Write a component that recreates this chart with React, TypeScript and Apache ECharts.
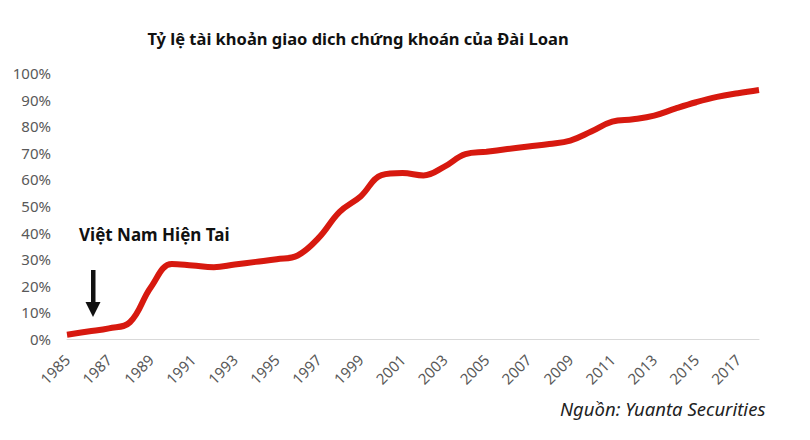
import React, { useEffect, useRef } from "react";
import * as echarts from "echarts";

const years: string[] = [];
for (let y = 1985; y <= 2018; y++) years.push(String(y));

const ratioValues: number[] = [
  1.6, 2.8, 4.0, 6.3, 19.5, 28.2, 27.6, 27.0, 28.0, 29.0, 30.0, 31.4,
  38.0, 47.8, 53.6, 61.6, 62.4, 61.5, 64.8, 69.5, 70.4, 71.4, 72.4, 73.3,
  74.6, 78.0, 81.7, 82.6, 84.0, 86.6, 89.0, 91.0, 92.4, 93.6,
];

const titleText = "Tỷ lệ tài khoản giao dich chứng khoán của Đài Loan";
const noteText = "Việt Nam Hiện Tai";
const sourceText = "Nguồn: Yuanta Securities";

export default function App() {
  const ref = useRef<HTMLDivElement>(null);
  useEffect(() => {
    if (!ref.current) return;
    const chart = echarts.init(ref.current, undefined, { renderer: "svg" });
    chart.setOption({
      animation: false,
      backgroundColor: "#ffffff",
      title: {
        text: titleText,
        left: 353,
        textAlign: "center",
        top: 25,
        textStyle: {
          fontFamily: "Noto Sans",
          fontWeight: "bold",
          fontSize: 16.5,
          color: "#111111",
        },
      },
      grid: { left: 67, right: 51, top: 73, bottom: 101, containLabel: false },
      xAxis: {
        type: "category",
        data: years,
        boundaryGap: false,
        axisLine: { lineStyle: { color: "#d9d9d9", width: 1 } },
        axisTick: { show: false },
        axisLabel: {
          interval: 1,
          rotate: 45,
          margin: 18,
          fontFamily: "Noto Sans",
          fontSize: 15,
          color: "#595959",
        },
        splitLine: { show: false },
      },
      yAxis: {
        type: "value",
        min: 0,
        max: 100,
        interval: 10,
        axisLine: { show: false },
        axisTick: { show: false },
        splitLine: { show: false },
        axisLabel: {
          formatter: "{value}%",
          margin: 16,
          fontFamily: "Noto Sans",
          fontSize: 15,
          color: "#595959",
        },
      },
      series: [
        {
          type: "line",
          data: ratioValues,
          smooth: 0.4,
          showSymbol: false,
          lineStyle: { color: "#d7190f", width: 6 },
          itemStyle: { color: "#d7190f" },
        },
      ],
      graphic: [
        {
          type: "text",
          left: 79,
          top: 226,
          style: {
            text: noteText,
            fontFamily: "Noto Sans",
            fontWeight: "bold",
            fontSize: 17,
            fill: "#111111",
          },
        },
        {
          type: "rect",
          shape: { x: 91, y: 270, width: 4.5, height: 33 },
          style: { fill: "#111111" },
        },
        {
          type: "polygon",
          shape: { points: [[85.5, 302], [100.5, 302], [93, 317]] },
          style: { fill: "#111111" },
        },
        {
          type: "text",
          left: 560,
          top: 399,
          style: {
            text: sourceText,
            fontFamily: "Noto Sans",
            fontStyle: "italic",
            fontSize: 18.5,
            fill: "#222222",
          },
        },
      ],
    });
    return () => chart.dispose();
  }, []);
  return (
    <div
      ref={ref}
      style={{ position: "fixed", left: 0, top: 0, width: 810, height: 440 }}
    />
  );
}
